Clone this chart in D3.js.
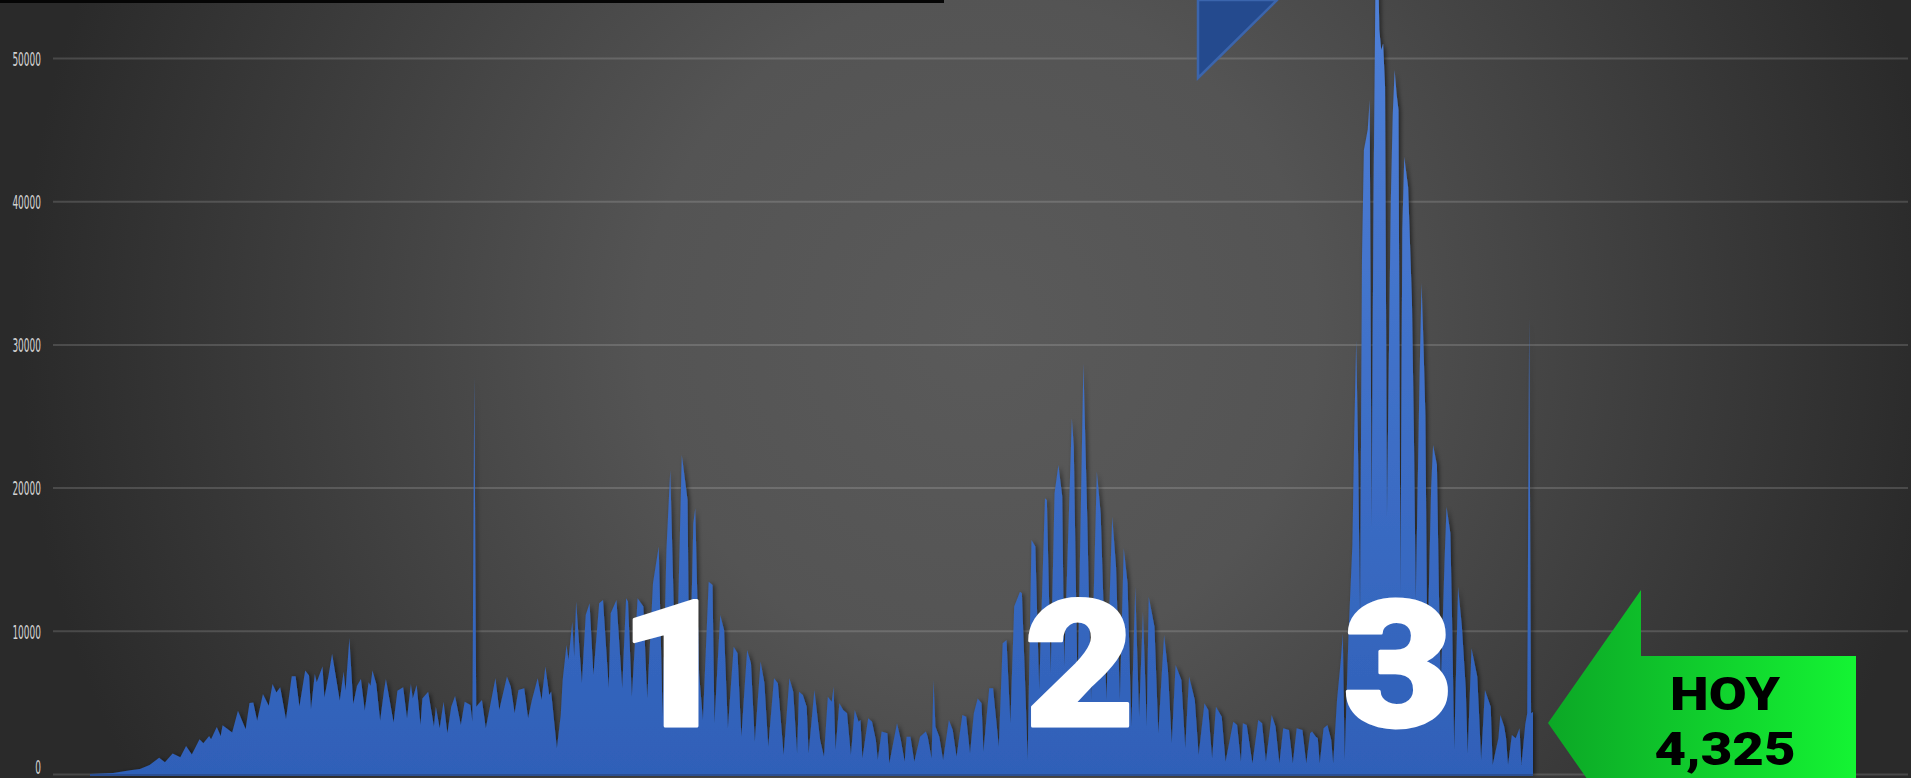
<!DOCTYPE html>
<html>
<head>
<meta charset="utf-8">
<script src="https://cdn.jsdelivr.net/npm/d3@7"></script>
<style>
  html, body { margin: 0; padding: 0; background: #2b2b2b; overflow: hidden; }
  svg { display: block; }
</style>
</head>
<body>
<svg id="chart" width="1911" height="778"></svg>
<script>
// daily cases, day index from the first day shown
var days = [
  0, 12, 21, 26, 31, 36, 39, 43, 47, 50, 53, 57, 59, 62, 63, 66, 68, 69, 74, 77,
  81, 83, 85, 87, 90, 93, 95, 97, 99, 102, 105, 107, 109, 112, 114, 115, 117, 118, 121, 122,
  124, 126, 130, 132, 133, 135, 137, 139, 141, 143, 145, 146, 147, 149, 151, 153, 154, 158, 160, 163,
  165, 167, 168, 170, 172, 173, 176, 179, 180, 182, 184, 186, 188, 190, 193, 195, 198, 199, 200, 201,
  204, 206, 211, 213, 217, 219, 221, 223, 226, 228, 230, 233, 235, 237, 239, 240, 243, 245, 246, 248,
  249, 251, 252, 253, 256, 258, 260, 262, 265, 267, 270, 271, 274, 277, 279, 280, 282, 285, 288, 290,
  293, 296, 298, 300, 302, 305, 308, 311, 312, 314, 315, 317, 319, 322, 324, 325, 328, 330, 332, 335,
  337, 339, 342, 344, 346, 349, 351, 353, 356, 358, 361, 364, 366, 368, 369, 371, 373, 374, 377, 380,
  382, 384, 386, 387, 388, 390, 392, 394, 396, 398, 400, 401, 402, 405, 407, 409, 410, 412, 415, 416,
  420, 422, 424, 425, 427, 429, 432, 435, 436, 438, 439, 440, 442, 444, 447, 449, 451, 454, 456, 458,
  460, 462, 464, 465, 468, 470, 473, 475, 477, 479, 481, 484, 485, 487, 488, 490, 492, 494, 497, 498,
  500, 502, 504, 506, 507, 511, 512, 514, 517, 519, 521, 524, 526, 529, 532, 534, 536, 538, 540, 542,
  544, 546, 548, 550, 551, 554, 556, 559, 561, 563, 565, 568, 570, 572, 575, 577, 580, 582, 584, 586,
  589, 591, 595, 597, 599, 600, 602, 605, 608, 610, 612, 615, 617, 619, 621, 624, 626, 628, 631, 633,
  635, 636, 638, 639, 640, 642, 644, 646, 647, 649, 651, 652, 653, 655, 657, 658, 659, 660, 661, 662,
  663, 664, 665, 666, 667, 668, 669, 670, 671, 672, 673, 674, 675, 677, 678, 679, 680, 681, 682, 683,
  684, 686, 688, 689, 690, 692, 693, 694, 695, 696, 698, 699, 701, 702, 703, 705, 706, 708, 709, 710,
  712, 714, 716, 717, 719, 722, 723, 724, 726, 729, 730, 733, 734, 736, 737, 738, 740, 742, 744, 745,
  747, 748, 749, 750, 751
];
var cases = [
  0, 70, 260, 350, 630, 1130, 820, 1430, 1170, 1950, 1360, 2420, 2140, 2650, 2420, 3290, 2650, 3400, 2890, 4410,
  3120, 4950, 5000, 3710, 5590, 4760, 6290, 5700, 6060, 3830, 6830, 6830, 4720, 7230, 6880, 4530, 6990, 6410, 7510, 5350,
  6760, 8400, 5120, 7160, 5820, 9500, 4880, 6170, 6640, 4410, 6410, 6170, 7230, 6290, 3710, 5820, 6640, 3590, 5820, 6060,
  3870, 6290, 5280, 6220, 3420, 5280, 5750, 3310, 4700, 3190, 5050, 2840, 4700, 5450, 3420, 5050, 4820, 3650, 27750, 4700,
  5170, 3190, 6680, 4470, 6800, 6100, 4240, 5870, 5980, 3890, 5170, 6680, 5170, 7500, 5520, 5750, 1790, 4120, 6560, 9010,
  7960, 10640, 8190, 12040, 6330, 11100, 11920, 6910, 11920, 12150, 5980, 11220, 12150, 5980, 12270, 12040, 5400, 12270, 11690, 5280,
  13320, 15880, 4000, 15640, 21230, 5400, 22280, 19140, 5170, 17510, 18550, 7030, 3770, 13430, 13200, 3540, 11100, 10060, 3190, 8890,
  8430, 2610, 8660, 7730, 2260, 7850, 6330, 1910, 6680, 6330, 1330, 6680, 5750, 1440, 5750, 5520, 4700, 1440, 5870, 2370,
  1210, 5400, 5050, 6100, 1680, 4940, 4470, 4240, 1330, 4470, 3650, 3770, 1090, 3890, 3650, 2370, 980, 2960, 2840, 740,
  3540, 2370, 860, 2610, 2610, 860, 2610, 2960, 2610, 1090, 6560, 3310, 2610, 980, 3770, 3070, 1210, 4120, 4000, 1440,
  4240, 5280, 4940, 1560, 5980, 5980, 1910, 9130, 9360, 3540, 11690, 12730, 12620, 5170, 980, 16340, 15880, 5870, 19250, 19140,
  7030, 19600, 21580, 19370, 7500, 24840, 22860, 5630, 28680, 17970, 5170, 21120, 18200, 5170, 17970, 14480, 5170, 15760, 13320, 3310,
  13080, 4000, 11340, 3310, 12380, 10290, 2840, 9710, 7260, 2140, 7610, 6560, 1790, 6800, 5170, 1330, 4940, 4470, 1090, 4700,
  4000, 860, 3650, 3420, 860, 3540, 3420, 740, 3770, 3540, 860, 4120, 3310, 740, 3190, 3070, 740, 3190, 3070, 740,
  2840, 2960, 2610, 2490, 740, 3190, 3420, 2370, 740, 5170, 7960, 9820, 980, 9820, 16000, 24000, 30300, 22000, 11000, 36000,
  43570, 44270, 45000, 47060, 17260, 40000, 55000, 60000, 52000, 50560, 51000, 48000, 17970, 40000, 46000, 49160, 47500, 46370, 12620, 38000,
  43090, 41000, 33000, 24000, 12150, 28000, 34290, 30000, 25000, 7960, 20000, 22970, 21580, 13000, 6000, 15000, 18670, 16810, 10000, 1680,
  13080, 10290, 6000, 1440, 8780, 6800, 4000, 980, 5870, 4700, 630, 2500, 4120, 3310, 2500, 630, 2720, 2490, 3190, 630,
  3500, 4240, 31840, 4240, 4325
];
var yTicks = [0, 10000, 20000, 30000, 40000, 50000];
var waveLabels = ['1', '2', '3'];
var waveDays = [304, 515, 681];
var todayLabel = 'HOY';
var todayValue = cases[cases.length - 1];

var width = 1911, height = 778;
var svg = d3.select('#chart');

var x = d3.scaleLinear().domain([0, 751]).range([90, 1533]);
var y = d3.scaleLinear().domain([0, 50000]).range([774, 58]);

var defs = svg.append('defs');

var bg = defs.append('radialGradient')
    .attr('id', 'bg')
    .attr('gradientUnits', 'userSpaceOnUse')
    .attr('cx', 980).attr('cy', 330).attr('r', 960);
bg.append('stop').attr('offset', 0).attr('stop-color', '#5a5a5a');
bg.append('stop').attr('offset', 0.35).attr('stop-color', '#545454');
bg.append('stop').attr('offset', 1).attr('stop-color', '#2a2a2a');

var fillGrad = defs.append('linearGradient')
    .attr('id', 'fillGrad')
    .attr('gradientUnits', 'userSpaceOnUse')
    .attr('x1', 0).attr('y1', 0).attr('x2', 0).attr('y2', 774);
fillGrad.append('stop').attr('offset', 0).attr('stop-color', '#4f80d8');
fillGrad.append('stop').attr('offset', 1).attr('stop-color', '#2f60b8');

var greenGrad = defs.append('linearGradient')
    .attr('id', 'greenGrad')
    .attr('gradientUnits', 'userSpaceOnUse')
    .attr('x1', 1548).attr('y1', 0).attr('x2', 1856).attr('y2', 0);
greenGrad.append('stop').attr('offset', 0).attr('stop-color', '#0ca726');
greenGrad.append('stop').attr('offset', 1).attr('stop-color', '#14f433');

var shadow = defs.append('filter').attr('id', 'shadow')
    .attr('x', '-5%').attr('y', '-5%').attr('width', '110%').attr('height', '110%');
shadow.append('feDropShadow')
    .attr('dx', 2).attr('dy', 1).attr('stdDeviation', 2)
    .attr('flood-color', '#000').attr('flood-opacity', 0.55);

svg.append('rect')
    .attr('width', width).attr('height', height)
    .attr('fill', 'url(#bg)');

// gridlines + y labels
var yAxis = d3.axisLeft(y)
    .tickValues(yTicks)
    .tickSize(-(1908 - 53))
    .tickFormat(d3.format('d'));

var gy = svg.append('g')
    .attr('transform', 'translate(53,0)')
    .call(yAxis);
gy.select('.domain').remove();
gy.selectAll('.tick line')
    .attr('stroke', '#ffffff')
    .attr('stroke-opacity', 0.15)
    .attr('stroke-width', 2);
gy.selectAll('.tick text')
    .attr('x', 0)
    .attr('dy', function (d) { return d === 0 ? '-0.05em' : '0.36em'; })
    .attr('text-anchor', 'end')
    .attr('transform', 'translate(-12,0) scale(0.45,1)')
    .attr('fill', '#d2d2d2')
    .style('font-family', 'DejaVu Sans')
    .style('font-size', '20px');

// the area
var series = days.map(function (d, i) {
    return {day: d, value: cases[i]};
});

var area = d3.area()
    .x(function (d) { return x(d.day); })
    .y0(y(0))
    .y1(function (d) { return y(d.value); });

svg.append('path')
    .datum(series)
    .attr('d', area)
    .attr('fill', 'url(#fillGrad)')
    .attr('filter', 'url(#shadow)');

svg.append('line')
    .attr('x1', x(0)).attr('x2', x(751))
    .attr('y1', y(0) + 1).attr('y2', y(0) + 1)
    .attr('stroke', '#2a4e92')
    .attr('stroke-width', 2);

// black bar on top and blue corner
svg.append('rect')
    .attr('x', 0).attr('y', 0).attr('width', 944).attr('height', 3)
    .attr('fill', '#050505');

svg.append('polygon')
    .attr('points', '1198,0 1277,0 1198,78')
    .attr('fill', '#244a8e')
    .attr('stroke', '#3b65ad')
    .attr('stroke-width', 2.5);

// wave numbers
svg.selectAll('.wave')
    .data(waveLabels)
    .enter().append('text')
    .attr('class', 'wave')
    .attr('transform', function (d, i) {
        return 'translate(' + x(waveDays[i]) + ',726) scale(1.08,1)';
    })
    .attr('text-anchor', 'middle')
    .attr('fill', '#ffffff')
    .attr('stroke', '#ffffff')
    .attr('stroke-width', 3)
    .attr('stroke-linejoin', 'round')
    .style('font-family', 'Roboto, Liberation Sans, sans-serif')
    .style('font-weight', 900)
    .style('font-size', '177px')
    .text(function (d) { return d; });

// green arrow "HOY"
svg.append('polygon')
    .attr('points', '1548,723 1641,590 1641,656 1856,656 1856,790 1641,790 1641,856')
    .attr('fill', 'url(#greenGrad)');

svg.append('text')
    .attr('x', 1725).attr('y', 710)
    .attr('text-anchor', 'middle')
    .attr('textLength', 110)
    .attr('lengthAdjust', 'spacingAndGlyphs')
    .attr('fill', '#000')
    .style('font-family', 'Roboto, Liberation Sans, sans-serif')
    .style('font-weight', 900)
    .style('font-size', '46px')
    .text(todayLabel);

svg.append('text')
    .attr('x', 1725).attr('y', 765)
    .attr('text-anchor', 'middle')
    .attr('textLength', 141)
    .attr('lengthAdjust', 'spacingAndGlyphs')
    .attr('fill', '#000')
    .style('font-family', 'Roboto, Liberation Sans, sans-serif')
    .style('font-weight', 900)
    .style('font-size', '46px')
    .text(d3.format(',')(todayValue));
</script>
</body>
</html>
